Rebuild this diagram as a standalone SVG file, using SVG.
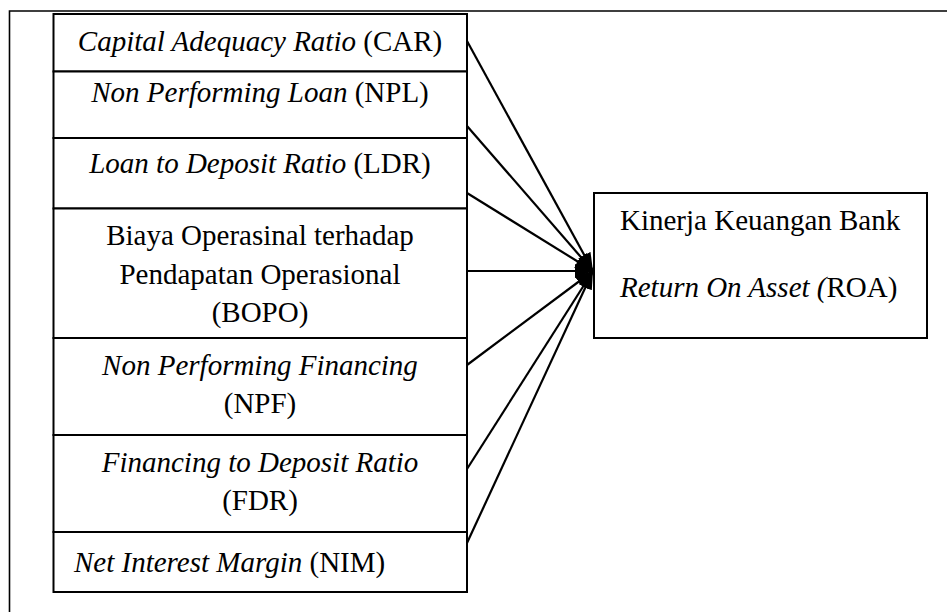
<svg xmlns="http://www.w3.org/2000/svg" width="947" height="612" viewBox="0 0 947 612">
<style>
.box{fill:#fff;stroke:#000;stroke-width:2}
.t{font-family:"Liberation Serif","Times New Roman",serif;font-size:29px;fill:#000}
.c{text-anchor:middle}
.i{font-style:italic}
.ln{stroke:#000;stroke-width:2.2;fill:none;marker-end:url(#ah)}
</style>
<defs>
<marker id="ah" viewBox="0 0 18 14" refX="18" refY="7" markerWidth="18" markerHeight="14" markerUnits="userSpaceOnUse" orient="auto">
<path d="M0,0 L18,7 L0,14 z" fill="#000"/>
</marker>
</defs>
<rect width="947" height="612" fill="#fff"/>
<g id="frame">
<path d="M9.5,612 V11 H947" fill="none" stroke="#000" stroke-width="1.6"/>
</g>
<g id="car">
<rect class="box" x="53.5" y="14" width="413.5" height="57.5"/>
<text class="t c" x="260" y="51"><tspan class="i">Capital Adequacy Ratio</tspan> (CAR)</text>
</g>
<g id="npl">
<rect class="box" x="53.5" y="71.5" width="413.5" height="66.5"/>
<text class="t c" x="260" y="102"><tspan class="i">Non Performing Loan</tspan> (NPL)</text>
</g>
<g id="ldr">
<rect class="box" x="53.5" y="138" width="413.5" height="70.5"/>
<text class="t c" x="260" y="173"><tspan class="i">Loan to Deposit Ratio</tspan> (LDR)</text>
</g>
<g id="bopo">
<rect class="box" x="53.5" y="208.5" width="413.5" height="129.5"/>
<text class="t c" x="260" y="245">Biaya Operasinal terhadap</text>
<text class="t c" x="260" y="284">Pendapatan Operasional</text>
<text class="t c" x="260" y="322">(BOPO)</text>
</g>
<g id="npf">
<rect class="box" x="53.5" y="338" width="413.5" height="97"/>
<text class="t c i" x="260" y="375">Non Performing Financing</text>
<text class="t c" x="260" y="413">(NPF)</text>
</g>
<g id="fdr">
<rect class="box" x="53.5" y="435" width="413.5" height="97"/>
<text class="t c i" x="260" y="472">Financing to Deposit Ratio</text>
<text class="t c" x="260" y="510">(FDR)</text>
</g>
<g id="nim">
<rect class="box" x="53.5" y="532" width="413.5" height="60"/>
<text class="t" x="74" y="572"><tspan class="i">Net Interest Margin</tspan> (NIM)</text>
</g>
<g id="roa">
<rect class="box" x="594" y="193" width="333" height="145"/>
<text class="t" x="620" y="230">Kinerja Keuangan Bank</text>
<text class="t" x="620" y="297"><tspan class="i">Return On Asset (</tspan>ROA)</text>
</g>
<g id="connectors">
<line class="ln" x1="467" y1="41" x2="593" y2="271"/>
<line class="ln" x1="467" y1="126" x2="593" y2="271"/>
<line class="ln" x1="467" y1="193" x2="593" y2="271"/>
<line class="ln" x1="467" y1="271" x2="593" y2="271"/>
<line class="ln" x1="467" y1="365" x2="593" y2="271"/>
<line class="ln" x1="467" y1="469" x2="593" y2="271"/>
<line class="ln" x1="467" y1="543" x2="593" y2="271"/>
</g>
</svg>
